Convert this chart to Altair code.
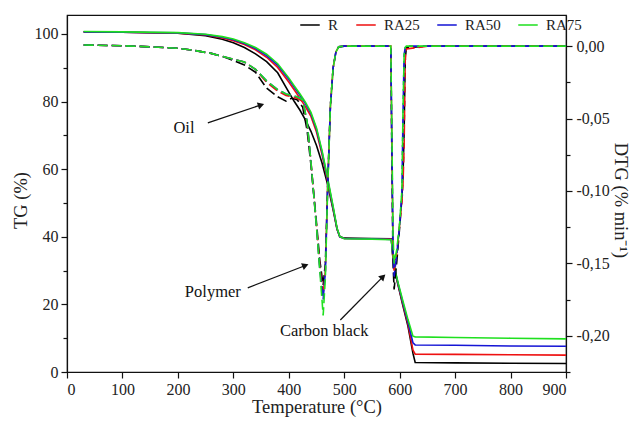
import altair as alt
import pandas as pd

series = ["R", "RA25", "RA50", "RA75"]
colors = ["#000000", "#ee1111", "#1515d5", "#1fe01f"]

# TG (%) curves, solid, left axis
T_TG = [30, 100, 200, 250, 280, 300, 320, 340, 360, 380, 400, 410, 420, 430, 440, 450, 460,
        470, 480, 487, 492, 500, 550, 585, 588, 592, 597, 605, 615, 624, 628, 700, 800, 900]
TG_R = [100.6, 100.5, 100.2, 99.5, 98.4, 97.4, 96.0, 94.1, 91.8, 88.5, 82.8, 80.0, 77.5, 74.6, 71.2,
        67.0, 61.8, 55.5, 48.0, 42.3, 40.1, 39.6, 39.5, 39.4, 33.5, 29.3, 25.8, 20.2, 13.5, 5.5,
        2.8, 2.7, 2.6, 2.5]
TG_RA25 = [100.6, 100.5, 100.2, 99.7, 98.8, 98.0, 96.9, 95.3, 93.1, 90.1, 85.8, 83.4, 81.0, 78.5,
           75.6, 71.0, 64.3, 56.5, 48.3, 42.3, 40.0, 39.5, 39.4, 39.3, 33.6, 29.5, 26.0, 20.6, 14.2,
           6.5, 5.3, 5.2, 5.1, 5.0]
TG_RA50 = [100.6, 100.5, 100.3, 99.8, 99.0, 98.3, 97.2, 95.7, 93.6, 90.8, 86.6, 84.2, 81.9, 79.4,
           76.4, 71.8, 65.0, 57.0, 48.6, 42.4, 40.0, 39.5, 39.4, 39.2, 33.8, 29.8, 26.2, 21.0, 14.8,
           8.6, 8.0, 7.9, 7.7, 7.6]
TG_RA75 = [100.7, 100.6, 100.4, 99.9, 99.2, 98.5, 97.4, 96.0, 94.0, 91.2, 87.0, 84.6, 82.3, 79.8,
           76.8, 72.2, 65.5, 57.5, 49.0, 42.6, 40.1, 39.4, 39.3, 39.1, 34.0, 30.0, 26.5, 21.5, 15.5,
           10.6, 10.4, 10.2, 10.0, 9.8]

# DTG (% min-1) curves, dashed, right axis
T_DTG = [30, 100, 150, 200, 230, 260, 280, 300, 320, 340, 360, 380, 395, 405, 415, 425, 433, 440,
         450, 456, 462, 466, 470, 475, 480, 485, 490, 500, 550, 584, 586, 588, 590, 595, 600, 604,
         606, 608, 610, 612, 650, 700, 800, 900]
DTG_R = [0.0008, 0.0003, -0.0005, -0.0015, -0.003, -0.005, -0.007, -0.010, -0.013, -0.018, -0.029,
         -0.035, -0.038, -0.036, -0.037, -0.042, -0.058, -0.082, -0.122, -0.148, -0.165, -0.150,
         -0.098, -0.042, -0.015, -0.004, -0.0005, 0.0, 0.0, 0.0, -0.08, -0.15, -0.168, -0.148,
         -0.125, -0.105, -0.09, -0.06, -0.01, -0.001, 0.0, 0.0, 0.0, 0.0]
DTG_RA25 = [0.0008, 0.0003, -0.0005, -0.0015, -0.003, -0.005, -0.007, -0.009, -0.011, -0.016,
            -0.025, -0.031, -0.034, -0.035, -0.036, -0.038, -0.053, -0.080, -0.124, -0.152,
            -0.172, -0.155, -0.098, -0.042, -0.015, -0.004, -0.0005, 0.0, 0.0, 0.0, -0.07,
            -0.14, -0.155, -0.142, -0.123, -0.108, -0.095, -0.07, -0.01, -0.002, 0.0, 0.0, 0.0, 0.0]
DTG_RA50 = [0.0008, 0.0003, -0.0005, -0.0015, -0.003, -0.005, -0.007, -0.009, -0.011, -0.016,
            -0.024, -0.030, -0.033, -0.034, -0.035, -0.037, -0.052, -0.080, -0.125, -0.154,
            -0.175, -0.156, -0.099, -0.042, -0.015, -0.004, -0.0005, 0.0, 0.0, 0.0, -0.07,
            -0.14, -0.159, -0.143, -0.123, -0.102, -0.048, -0.006, -0.001, 0.0, 0.0, 0.0, 0.0, 0.0]
DTG_RA75 = [0.0008, 0.0003, -0.0005, -0.0015, -0.003, -0.005, -0.007, -0.009, -0.011, -0.016,
            -0.024, -0.030, -0.033, -0.034, -0.035, -0.037, -0.052, -0.080, -0.125, -0.155,
            -0.186, -0.160, -0.100, -0.042, -0.015, -0.004, -0.0005, 0.0, 0.0, 0.0, -0.06,
            -0.13, -0.150, -0.140, -0.122, -0.100, -0.045, -0.006, -0.001, 0.0, 0.0, 0.0, 0.0, 0.0]

# annotations (data units: temperature, TG)
ann_text = ["Oil", "Polymer", "Carbon black"]
ann_T = [211, 263, 464]
ann_TG = [72.2, 23.7, 12.2]
arrow_T0 = [254, 326, 493]
arrow_TG0 = [73.7, 24.9, 15.4]
arrow_T1 = [350, 430, 570]
arrow_TG1 = [79.0, 31.5, 28.2]
arrow_angle = [342, 339, 316]

tg_vals = [TG_R, TG_RA25, TG_RA50, TG_RA75]
dtg_vals = [DTG_R, DTG_RA25, DTG_RA50, DTG_RA75]

tg_df = pd.DataFrame([
    {"T": t, "TG": v, "series": s, "o": i}
    for s, vals in zip(series, tg_vals) for i, (t, v) in enumerate(zip(T_TG, vals))
])
dtg_df = pd.DataFrame([
    {"T": t, "DTG": v, "series": s, "o": i}
    for s, vals in zip(series, dtg_vals) for i, (t, v) in enumerate(zip(T_DTG, vals))
])
ann_df = pd.DataFrame({"T": ann_T, "TG": ann_TG, "text": ann_text})
arr_df = pd.DataFrame({"T": arrow_T0, "TG": arrow_TG0, "T2": arrow_T1, "TG2": arrow_TG1,
                       "angle": arrow_angle})

FONT = "Times New Roman, Liberation Serif, serif"
xscale = alt.Scale(domain=[0, 900], nice=False, zero=False)
yscale_tg = alt.Scale(domain=[0, 105.6], nice=False, zero=False)
yscale_dtg = alt.Scale(domain=[-0.225, 0.0215], nice=False, zero=False)

xaxis = alt.Axis(values=list(range(0, 901, 100)), title="Temperature (°C)", grid=False,
                 tickSize=6, labelPadding=3, titleY=34, titleBaseline="middle")
left_axis = alt.Axis(values=list(range(0, 101, 10)), title="TG (%)", grid=False,
                     labelExpr="datum.value % 20 === 0 ? datum.label : ''",
                     tickSize={"condition": {"test": "datum.value % 20 !== 0", "value": 4}, "value": 6},
                     labelPadding=3, titleX=-47, titleY=185, titleAngle=-90,
                     titleBaseline="middle", titleAlign="center")
right_axis = alt.Axis(values=[-0.225, -0.2, -0.175, -0.15, -0.125, -0.1, -0.075, -0.05, -0.025, 0.0],
                      orient="right", title="DTG (% min⁻¹)", grid=False,
                      labelExpr="abs(round(datum.value*1000)) % 50 === 0 ? replace(replace(format(datum.value, '.2f'), '.', ','), '\u2212', '-') : ''",
                      tickSize={"condition": {"test": "abs(round(datum.value*1000)) % 50 !== 0", "value": 4}, "value": 6},
                      labelPadding=4, titleX=54, titleY=185, titleAngle=90,
                      titleBaseline="middle", titleAlign="center")

color = alt.Color("series:N", scale=alt.Scale(domain=series, range=colors),
                  legend=alt.Legend(title=None, orient="none", direction="horizontal",
                                    legendX=232, legendY=-1, symbolType="stroke",
                                    symbolSize=380, symbolStrokeWidth=1.6, labelFont=FONT,
                                    labelFontSize=15, labelColor="#222", columnPadding=14,
                                    labelOffset=7, symbolDash=[1, 0]))

tg_lines = alt.Chart(tg_df).mark_line(strokeWidth=1.6).encode(
    x=alt.X("T:Q", scale=xscale, axis=xaxis),
    y=alt.Y("TG:Q", scale=yscale_tg, axis=left_axis),
    color=color, order="o:Q")

texts = alt.Chart(ann_df).mark_text(font=FONT, fontSize=16.5, color="#111").encode(
    x=alt.X("T:Q", scale=xscale, axis=xaxis),
    y=alt.Y("TG:Q", scale=yscale_tg, axis=left_axis),
    text="text:N")

arrows = alt.Chart(arr_df).mark_rule(strokeWidth=1.3, color="#111").encode(
    x=alt.X("T:Q", scale=xscale, axis=xaxis),
    y=alt.Y("TG:Q", scale=yscale_tg, axis=left_axis),
    x2="T2:Q", y2="TG2:Q")

heads = alt.Chart(arr_df).mark_point(shape="triangle-right", filled=True, size=55,
                                     color="#111", opacity=1).encode(
    x=alt.X("T2:Q", scale=xscale, axis=xaxis),
    y=alt.Y("TG2:Q", scale=yscale_tg, axis=left_axis),
    angle=alt.Angle("angle:Q", scale=None))

dtg_lines = alt.Chart(dtg_df).mark_line(strokeWidth=1.6, strokeDash=[10, 4]).encode(
    x=alt.X("T:Q", scale=xscale, axis=xaxis),
    y=alt.Y("DTG:Q", scale=yscale_dtg, axis=right_axis),
    color=color, order="o:Q")

left_group = alt.layer(tg_lines, arrows, heads, texts)
chart = alt.layer(left_group, dtg_lines).resolve_scale(y="independent").properties(
    width=499, height=357,
    padding={"left": 59, "top": 7, "right": 65, "bottom": 45},
    autosize=alt.AutoSizeParams(type="none"),
).configure_view(stroke="#111", strokeWidth=1.2).configure_axis(
    domainColor="#111", domainWidth=1.2, tickColor="#111", tickWidth=1.2,
    labelFont=FONT, labelFontSize=16, labelColor="#222",
    titleFont=FONT, titleFontSize=18.5, titleFontWeight="normal", titleColor="#222",
)

chart.save("out.html", embed_options={"renderer": "svg", "actions": False})
